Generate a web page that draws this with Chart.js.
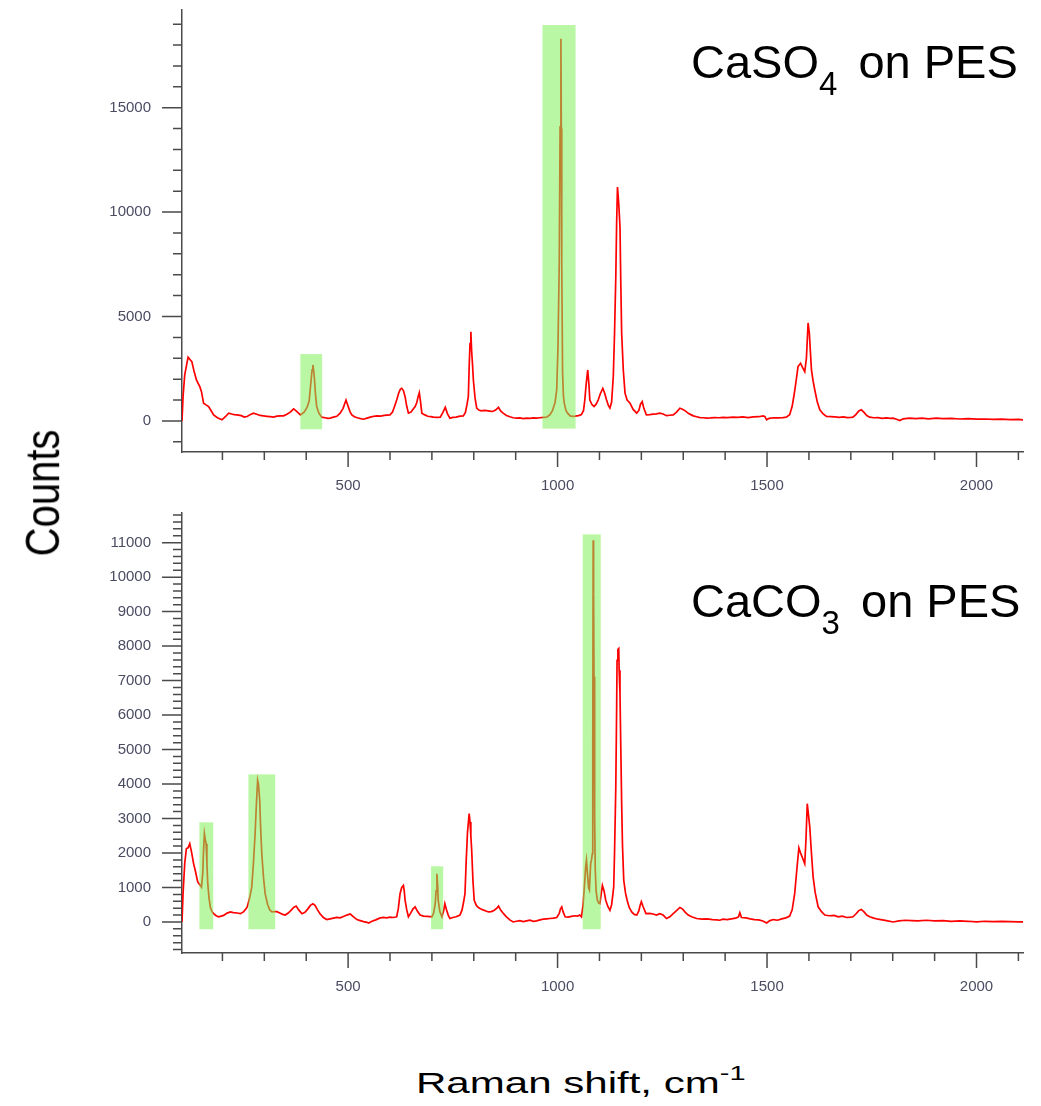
<!DOCTYPE html>
<html lang="en"><head>
<meta charset="UTF-8">
<title>Raman spectra CaSO4 / CaCO3 on PES</title>
<script src="https://cdn.jsdelivr.net/npm/chart.js@4.4.1/dist/chart.umd.min.js"></script>
<style>
	body { margin:0; background:#FFFFFF; font-family:"Liberation Sans", Arial, sans-serif; }
	#page { position:relative; width:1041px; height:1106px; overflow:hidden; }
	canvas { position:absolute; left:0; }
	#top_chart { top:0px; }
	#bot_chart { top:503px; }
	.lbl { position:absolute; white-space:nowrap; line-height:1; color:#000000; }
	.sample { font-size:47px; }
	.sample sub { font-size:33px; vertical-align:baseline; position:relative; top:17px; margin-right:8px; }
	#ylabel { font-size:40px; left:42px; top:493px; transform:translate(-50%,-50%) rotate(-90deg) scaleY(1.22); }
	#xlabel { font-size:29px; left:416px; top:1069px; transform-origin:left center; transform:scaleX(1.45); }
	#xlabel sup { font-size:20px; vertical-align:baseline; position:relative; top:-13px; }
</style>
</head>
<body>
<div id="page">
	<canvas id="top_chart" width="1041" height="500"></canvas>
	<canvas id="bot_chart" width="1041" height="500"></canvas>
	<div class="lbl sample" style="left:691px; top:38px;">CaSO<sub>4</sub> on PES</div>
	<div class="lbl sample" style="left:691px; top:577px;">CaCO<sub>3</sub> on PES</div>
	<div class="lbl" id="ylabel">Counts</div>
	<div class="lbl" id="xlabel">Raman shift, cm<sup>-1</sup></div>
</div>

<script>
// ---- CaSO4 on PES (top) ----
const topShift = [
	103.5,106,110,118,122,127,132,138,142,146,150,155,160,167,172,179,188,199,207,215,
	222,228,235,245,252,259,266,274,282,290,298,306,314,322,330,338,346,354,362,370,
	376,381,386,395,402,407,411,414,416,419,422,425,430,437,445,452,457,465,473,481,
	488,495,500,505,509,515,522,530,537,545,553,561,569,578,586,593,600,606,611,616,
	621,625,628,632,636,640,644,650,655,660,664,667,670,673,676,682,690,697,704,712,
	720,726,732,737,743,750,758,767,775,780,784,787,789,791,793,795,797,799,803,807,
	812,818,825,831,838,845,852,859,864,870,878,886,894,902,910,918,926,934,942,950,
	958,966,974,982,988,994,998,1001,1004,1006,1008,1009,1010,1012,1014,1016,1020,1024,1030,1036,
	1042,1050,1057,1062,1065,1068,1072,1075,1077,1082,1087,1092,1097,1102,1108,1112,1117,1121,1125,1129,
	1133,1136,1139,1141,1143,1146,1149,1151,1153,1157,1161,1166,1173,1180,1189,1194,1198,1202,1206,1212,
	1220,1228,1236,1244,1252,1260,1268,1276,1284,1292,1298,1305,1312,1318,1324,1332,1340,1348,1356,1365,
	1375,1385,1395,1405,1419,1430,1442,1455,1467,1480,1491,1495,1499,1505,1515,1526,1538,1546,1554,1560,
	1565,1570,1574,1580,1585,1590,1594,1598,1601,1606,1610,1614,1620,1626,1634,1642,1652,1662,1672,1682,
	1692,1700,1705,1712,1719,1725,1731,1738,1745,1755,1765,1775,1785,1795,1801,1809,1817,1825,1840,1855,
	1870,1885,1904,1920,1940,1960,1980,2000,2020,2040,2060,2080,2100,2111
];
const topCounts = [
	0,1160,2200,3050,2950,2840,2400,1960,1800,1640,1400,850,780,690,520,290,150,50,200,370,
	330,300,290,250,180,210,300,370,320,260,240,220,200,180,230,240,240,320,420,574,
	480,380,290,420,650,950,1800,2450,2680,2200,1300,690,380,180,150,120,130,180,220,370,
	600,1000,700,420,290,200,150,110,80,130,180,220,240,230,260,280,290,420,700,1000,
	1350,1520,1560,1450,1160,700,370,420,560,690,880,1150,1350,900,370,300,220,200,180,170,
	180,400,650,350,130,170,180,230,240,400,800,1160,2600,3700,4270,3300,2700,1960,1100,610,
	520,480,500,490,470,450,520,650,480,370,260,200,150,130,140,110,130,120,140,130,
	150,170,180,300,500,880,1500,3550,7560,14080,18300,14000,7380,2280,1200,850,500,370,240,220,
	230,250,300,500,1000,1700,2440,1700,1000,780,690,800,1000,1300,1560,1350,1000,750,610,900,
	2120,4200,6900,9500,11200,10400,9300,6500,4200,2400,1330,1000,850,560,370,500,800,920,600,290,
	300,320,340,370,330,250,270,290,420,610,560,480,360,300,240,200,160,150,130,140,
	160,150,170,160,180,170,190,160,190,200,240,200,50,120,150,140,160,180,300,700,
	1300,2000,2600,2760,2550,2360,3000,4690,4200,2440,1900,1480,900,530,330,210,200,190,170,190,
	160,170,180,300,480,530,420,260,180,150,160,120,140,120,130,80,15,100,130,110,
	130,100,130,110,120,90,110,80,90,70,80,60,70,50
];

// ---- CaCO3 on PES (bottom) ----
const botShift = [
	103.5,106,110,114,118,122,127,131,135,141,146,150,153,155,157,159,161,163,165,168,
	171,175,179,185,191,197,203,210,219,226,235,243,251,259,265,270,274,278,281,284,
	286,289,291,294,298,302,308,313,318,324,330,337,344,350,357,363,370,376,382,390,
	397,404,410,416,421,427,433,441,449,457,465,473,481,489,497,505,513,521,529,537,
	545,549,557,566,575,584,592,600,608,616,620,624,628,632,634,636,640,644,649,655,
	660,666,672,680,690,700,704,708,710,712,714,715,719,724,728,731,735,739,743,750,
	758,767,772,776,779,782,785,789,791,793,795,798,801,806,811,815,822,829,835,842,
	849,855,859,865,871,878,886,894,902,910,918,926,934,942,950,958,966,974,982,990,
	998,1004,1007,1010,1013,1018,1025,1033,1041,1048,1053,1057,1061,1065,1067,1069,1072,1074,1076,1079,
	1081,1083,1084,1085,1086,1087,1088,1089,1090,1092,1095,1098,1101,1104,1107,1111,1115,1120,1125,1129,
	1132,1134,1136,1139,1141,1142,1144,1146,1147,1149,1151,1153,1155,1158,1162,1166,1171,1177,1183,1189,
	1194,1197,1200,1204,1211,1220,1228,1236,1244,1252,1260,1268,1276,1284,1292,1298,1305,1312,1320,1332,
	1345,1357,1370,1380,1387,1395,1405,1415,1425,1432,1435,1439,1450,1460,1470,1480,1490,1499,1507,1515,
	1525,1535,1545,1554,1560,1566,1571,1576,1580,1584,1590,1593,1596,1599,1602,1606,1610,1615,1622,1630,
	1638,1648,1660,1670,1680,1690,1700,1705,1712,1719,1725,1731,1738,1745,1755,1765,1775,1785,1801,1815,
	1830,1845,1860,1880,1900,1920,1940,1960,1980,2000,2020,2040,2060,2080,2100,2111
];
const botCounts = [
	0,820,1700,2130,2150,2270,1980,1700,1500,1160,1080,1010,1400,2100,2560,2400,2270,1700,1110,700,
	430,300,240,180,150,170,190,250,290,270,260,240,300,430,700,1010,1700,2560,3400,4110,
	4000,3530,2800,1980,1300,820,500,350,290,300,300,260,220,200,260,330,420,460,350,240,
	280,380,480,530,480,350,240,130,70,90,110,130,120,160,200,230,150,70,40,10,
	-10,-30,20,60,110,130,120,140,130,150,400,820,1000,1060,900,630,350,150,250,380,
	440,300,200,170,160,150,250,530,900,1400,1000,630,300,150,320,530,350,200,100,130,
	150,200,350,600,820,1800,2600,3140,2900,2500,2080,1200,630,480,420,390,350,320,290,300,
	340,400,460,330,240,150,60,0,20,40,10,30,50,20,30,60,80,90,100,110,
	130,250,380,440,300,150,140,160,180,170,200,150,500,1210,1600,1790,1300,1000,930,1690,
	1800,1980,5000,11070,9500,7110,5000,3000,1500,900,630,550,530,800,1060,900,630,450,340,500,
	800,1020,2000,3920,6200,7590,7900,7930,7300,6620,5000,3430,2200,1210,850,630,420,290,220,200,
	320,480,590,450,240,250,230,200,240,200,100,150,240,330,420,380,280,200,150,100,
	80,90,70,60,50,80,70,90,110,150,270,130,120,90,70,60,30,-30,40,70,
	50,90,120,170,350,820,1500,2150,2000,1880,1690,2400,3430,3100,2760,2000,1310,850,440,300,
	200,180,190,150,170,130,140,150,230,330,360,300,200,150,110,80,60,40,0,30,
	50,40,30,50,30,40,20,30,20,0,20,10,20,10,0,0
];

// tick labels
const xTicks = [500, 1000, 1500, 2000];
const topYTicks = [0, 5000, 10000, 15000];
const botYTicks = [0, 1000, 2000, 3000, 4000, 5000, 6000, 7000, 8000, 9000, 10000, 11000];

// highlighted bands: [from shift, to shift, bottom count, top count]
const topBands = [[386, 438, -400, 3200], [964, 1043, -370, 18960]];
const botBands = [[145, 178, -210, 2890], [262, 326, -210, 4280], [698, 727, -210, 1615], [1060, 1103, -210, 11240]];

// minor tick positions
function steps(from, to, step) {
	var a = [];
	for (var v = from; v <= to; v += step) a.push(v);
	return a;
}
const xMinor = steps(200, 2100, 100);
const topYMinor = steps(-1000, 19000, 1000);
const botYMinor = steps(-800, 11800, 200);

const axisColor = '#4a4a4a';
const tickFont = { family: '"Liberation Sans", Arial, sans-serif', size: 15 };
const tickColor = '#4a4c62';

function makeChart(id, shift, counts, yMin, yMax, yMajor, yMinorList, bands, xAxisH) {
	// green bands drawn over the line so the trace looks brown inside them
	const bandPlugin = {
		id: 'bands',
		afterDatasetsDraw(chart) {
			const ctx = chart.ctx, xs = chart.scales.x, ys = chart.scales.y;
			ctx.save();
			ctx.fillStyle = 'rgba(130, 240, 90, 0.55)';
			bands.forEach(function (b) {
				const l = xs.getPixelForValue(b[0]), r = xs.getPixelForValue(b[1]);
				const bt = ys.getPixelForValue(b[2]), tp = ys.getPixelForValue(b[3]);
				ctx.fillRect(l, tp, r - l, bt - tp);
			});
			ctx.restore();
		}
	};
	// long major ticks and short minor ticks
	const tickPlugin = {
		id: 'ticks',
		afterDraw(chart) {
			const ctx = chart.ctx, xs = chart.scales.x, ys = chart.scales.y;
			const ax = chart.chartArea.left, ay = chart.chartArea.bottom;
			ctx.save();
			ctx.strokeStyle = axisColor;
			ctx.lineWidth = 1.5;
			ctx.beginPath();
			yMinorList.forEach(function (v) { var p = ys.getPixelForValue(v); ctx.moveTo(ax - 9, p); ctx.lineTo(ax, p); });
			yMajor.forEach(function (v) { var p = ys.getPixelForValue(v); ctx.moveTo(ax - 20, p); ctx.lineTo(ax, p); });
			xMinor.forEach(function (v) { var p = xs.getPixelForValue(v); ctx.moveTo(p, ay); ctx.lineTo(p, ay + 8); });
			xTicks.forEach(function (v) { var p = xs.getPixelForValue(v); ctx.moveTo(p, ay); ctx.lineTo(p, ay + 15); });
			ctx.stroke();
			ctx.restore();
		}
	};

	return new Chart(document.getElementById(id), {
		type: 'line',
		data: {
			datasets: [{
				data: shift.map(function (s, i) { return { x: s, y: counts[i] }; }),
				borderColor: '#ff0000',
				borderWidth: 1.7,
				pointRadius: 0,
				tension: 0,
				fill: false
			}]
		},
		options: {
			responsive: false,
			animation: false,
			devicePixelRatio: 1,
			layout: { padding: { left: 0, right: 18, top: 10, bottom: 0 } },
			plugins: { legend: { display: false }, tooltip: { enabled: false } },
			scales: {
				x: {
					type: 'linear', min: 103.5, max: 2111,
					afterBuildTicks: function (s) { s.ticks = xTicks.map(function (v) { return { value: v }; }); },
					afterFit: function (s) { s.height = xAxisH; s.paddingLeft = 0; s.paddingRight = 0; },
					border: { display: true, color: axisColor, width: 1.5 },
					grid: { display: true, drawOnChartArea: false, drawTicks: true, tickLength: 15, tickColor: 'rgba(0,0,0,0)' },
					ticks: { font: tickFont, color: tickColor, padding: 10, maxRotation: 0, autoSkip: false,
						callback: function (v) { return String(v); } }
				},
				y: {
					type: 'linear', min: yMin, max: yMax,
					afterBuildTicks: function (s) { s.ticks = yMajor.map(function (v) { return { value: v }; }); },
					afterFit: function (s) { s.width = 182; s.paddingTop = 0; s.paddingBottom = 0; },
					border: { display: true, color: axisColor, width: 1.5 },
					grid: { display: true, drawOnChartArea: false, drawTicks: true, tickLength: 20, tickColor: 'rgba(0,0,0,0)' },
					ticks: { font: tickFont, color: tickColor, padding: 11, autoSkip: false,
						callback: function (v) { return String(v); } }
				}
			}
		},
		plugins: [bandPlugin, tickPlugin]
	});
}

makeChart('top_chart', topShift, topCounts, -1490, 19680, topYTicks, topYMinor, topBands, 48);
makeChart('bot_chart', botShift, botCounts, -900, 11860, botYTicks, botYMinor, botBands, 50);
</script>
</body></html>
